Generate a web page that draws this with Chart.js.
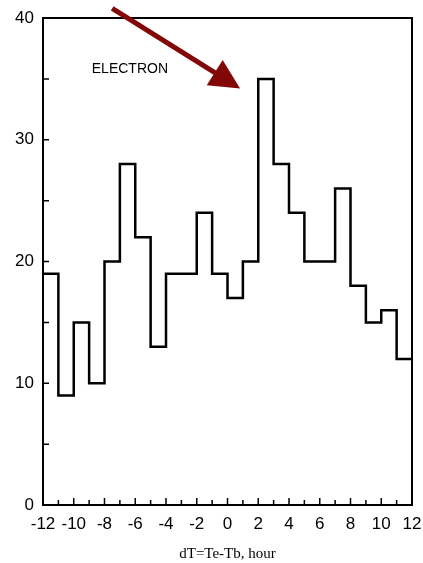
<!DOCTYPE html>
<html>
<head>
<meta charset="utf-8">
<script src="https://cdn.jsdelivr.net/npm/chart.js@4/dist/chart.umd.min.js"></script>
<style>
  html, body { margin: 0; padding: 0; background: #fff; }
  #wrap { width: 423px; height: 563px; position: relative; }
</style>
</head>
<body>
<div id="wrap"><canvas id="histChart"></canvas></div>
<script>
/* histogramme ELECTRON : dT = Te - Tb */
const binStarts = [-12, -11, -10, -9, -8, -7, -6, -5, -4, -3, -2, -1, 0, 1, 2, 3, 4, 5, 6, 7, 8, 9, 10, 11];
const counts    = [19, 9, 15, 10, 20, 28, 22, 13, 19, 19, 24, 19, 17, 20, 35, 28, 24, 20, 20, 26, 18, 15, 16, 12];
const xTicks = [-12, -10, -8, -6, -4, -2, 0, 2, 4, 6, 8, 10, 12];
const yTicks = [0, 10, 20, 30, 40];
const xLabel = 'dT=Te-Tb, hour';
const seriesLabel = 'ELECTRON';

// points pour le trace en escalier (dernier bin ferme a x=12)
const points = binStarts.map((x, i) => ({ x: x, y: counts[i] }));
points.push({ x: 12, y: counts[counts.length - 1] });

// cadre + petites graduations vers l'interieur + fleche
const framePlugin = {
    id: 'frame',
    afterDraw(chart) {
        const { ctx, chartArea: a, scales } = chart;
        const sx = scales.x, sy = scales.y;
        ctx.save();
        ctx.strokeStyle = '#000';
        ctx.lineWidth = 2;
        ctx.strokeRect(a.left, a.top, a.right - a.left, a.bottom - a.top);

        ctx.lineWidth = 1.5;
        ctx.beginPath();
        for (let v = -12; v <= 12; v++) {
            const px = sx.getPixelForValue(v);
            const len = (v % 2 === 0) ? 7 : 5;
            ctx.moveTo(px, a.bottom);
            ctx.lineTo(px, a.bottom - len);
        }
        for (let v = 0; v <= 40; v += 5) {
            const py = sy.getPixelForValue(v);
            ctx.moveTo(a.left, py);
            ctx.lineTo(a.left + 6, py);
        }
        ctx.stroke();

        // texte
        ctx.fillStyle = '#000';
        ctx.font = '14px "Liberation Sans", Arial, sans-serif';
        ctx.textAlign = 'center';
        ctx.textBaseline = 'middle';
        ctx.fillText(seriesLabel, sx.getPixelForValue(-6.35), sy.getPixelForValue(35.8));

        // fleche rouge fonce
        const x0 = sx.getPixelForValue(-7.5), y0 = sy.getPixelForValue(40.8);
        const x1 = sx.getPixelForValue(0.82), y1 = sy.getPixelForValue(34.2);
        const ang = Math.atan2(y1 - y0, x1 - x0);
        const headLen = 30, headW = 15;
        const bx = x1 - headLen * Math.cos(ang), by = y1 - headLen * Math.sin(ang);
        ctx.strokeStyle = '#820808';
        ctx.fillStyle = '#820808';
        ctx.lineWidth = 5;
        ctx.beginPath();
        ctx.moveTo(x0, y0);
        ctx.lineTo(bx + 2 * Math.cos(ang), by + 2 * Math.sin(ang));
        ctx.stroke();
        ctx.beginPath();
        ctx.moveTo(x1, y1);
        ctx.lineTo(bx + headW * Math.sin(ang), by - headW * Math.cos(ang));
        ctx.lineTo(bx - headW * Math.sin(ang), by + headW * Math.cos(ang));
        ctx.closePath();
        ctx.fill();
        ctx.restore();
    }
};

const canvas = document.getElementById('histChart');
new Chart(canvas, {
    type: 'line',
    data: {
        datasets: [{
            label: seriesLabel,
            data: points,
            stepped: true,
            borderColor: '#000',
            borderWidth: 2.5,
            pointRadius: 0,
            fill: false
        }]
    },
    options: {
        responsive: true,
        maintainAspectRatio: false,
        animation: false,
        layout: { padding: { top: 18, right: 11, left: 0, bottom: 0 } },
        plugins: { legend: { display: false }, tooltip: { enabled: false } },
        scales: {
            x: {
                type: 'linear',
                min: -12,
                max: 12,
                afterBuildTicks: s => { s.ticks = xTicks.map(v => ({ value: v })); },
                afterFit: s => { s.height = 58; s.paddingLeft = 0; s.paddingRight = 0; },
                grid: { display: false, drawTicks: false },
                border: { display: false },
                ticks: {
                    color: '#000',
                    padding: 9,
                    maxRotation: 0,
                    autoSkip: false,
                    font: { family: '"Liberation Sans", Arial, sans-serif', size: 17 }
                },
                title: {
                    display: true,
                    text: xLabel,
                    color: '#000',
                    padding: { top: 8, bottom: 0 },
                    font: { family: '"Liberation Serif", "Times New Roman", serif', size: 15 }
                }
            },
            y: {
                min: 0,
                max: 40,
                afterBuildTicks: s => { s.ticks = yTicks.map(v => ({ value: v })); },
                afterFit: s => { s.width = 43; s.paddingTop = 0; s.paddingBottom = 0; },
                grid: { display: false, drawTicks: false },
                border: { display: false },
                ticks: {
                    color: '#000',
                    padding: 9,
                    font: { family: '"Liberation Sans", Arial, sans-serif', size: 17 }
                }
            }
        }
    },
    plugins: [framePlugin]
});
</script>
</body>
</html>
